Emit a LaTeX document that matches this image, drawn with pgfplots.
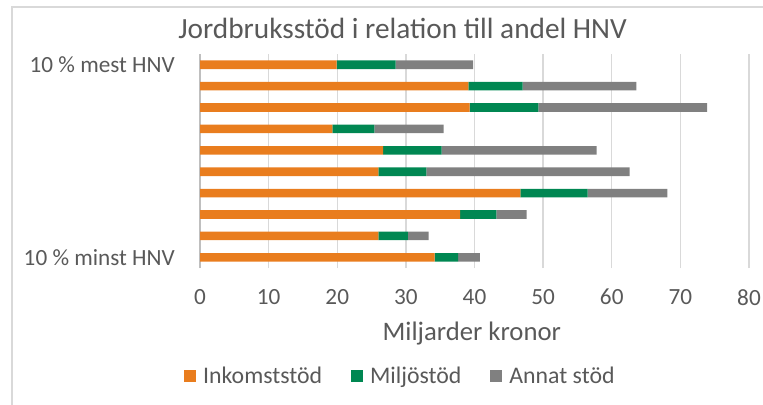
\documentclass[border=0pt]{standalone}
\usepackage{fontspec}
\setmainfont{Carlito}
\usepackage{pgfplots}
\pgfplotsset{compat=1.18}
\definecolor{cOr}{RGB}{233,125,30}
\definecolor{cGr}{RGB}{0,135,82}
\definecolor{cGy}{RGB}{128,128,128}
\definecolor{cTx}{RGB}{89,89,89}
\definecolor{cGrid}{RGB}{217,217,217}
\begin{document}
\begin{tikzpicture}
\useasboundingbox (0,0) rectangle (763bp,405bp);
\draw[draw=cGrid, line width=1.5bp] (12bp,0bp) -- (12bp,398bp) -- (763bp,398bp);
\begin{axis}[
  at={(200bp,137bp)}, anchor=south west,
  scale only axis, width=549bp, height=214bp,
  xbar stacked, bar width=8.6bp,
  xmin=0, xmax=80, ymin=-0.5, ymax=9.5,
  enlargelimits=false,
  xtick={0,10,...,80},
  ytick={0,...,9},
  yticklabels={10 \% minst HNV,{},{},{},{},{},{},{},{},10 \% mest HNV},
  major tick length=0pt,
  axis lines*=left,
  x axis line style={draw=none},
  y axis line style={draw=black!25, line width=1.3bp},
  xmajorgrids, grid style={draw=cGrid, line width=1.3bp},
  /pgf/number format/assume math mode=true,
  tick label style={font=\fontsize{23.2bp}{26bp}\selectfont, text=cTx, inner sep=0pt},
  xticklabel style={anchor=north, yshift=-21bp},
  yticklabel style={anchor=east, xshift=-25bp},
  title={Jordbruksstöd i relation till andel HNV},
  title style={at={(axis description cs:0.369,1.093)}, anchor=center, font=\fontsize{29.3bp}{32bp}\selectfont, text=cTx},
  xlabel={Miljarder kronor},
  xlabel style={at={(axis description cs:0.495,-0.304)}, anchor=center, font=\fontsize{26.7bp}{29bp}\selectfont, text=cTx},
  legend columns=3,
  legend style={draw=none, fill=none, at={(axis description cs:0.365,-0.505)}, anchor=center,
    font=\fontsize{23.8bp}{26bp}\selectfont, text=cTx, inner sep=0pt,
    /tikz/every odd column/.append style={column sep=5bp},
    /tikz/every even column/.append style={column sep=27bp}},
  legend image code/.code={\fill[#1] (0bp,-6bp) rectangle (12bp,6bp);},
]
\addplot[fill=cOr, draw=none] coordinates {(34.2,0) (26.0,1) (37.9,2) (46.7,3) (26.0,4) (26.7,5) (19.3,6) (39.3,7) (39.1,8) (19.9,9)};
\addplot[fill=cGr, draw=none] coordinates {(3.4,0) (4.3,1) (5.3,2) (9.8,3) (7.0,4) (8.5,5) (6.1,6) (10.0,7) (7.9,8) (8.6,9)};
\addplot[fill=cGy, draw=none] coordinates {(3.2,0) (3.0,1) (4.4,2) (11.6,3) (29.6,4) (22.6,5) (10.1,6) (24.6,7) (16.6,8) (11.3,9)};
\legend{Inkomststöd,Miljöstöd,Annat stöd}
\end{axis}
\end{tikzpicture}
\end{document}
